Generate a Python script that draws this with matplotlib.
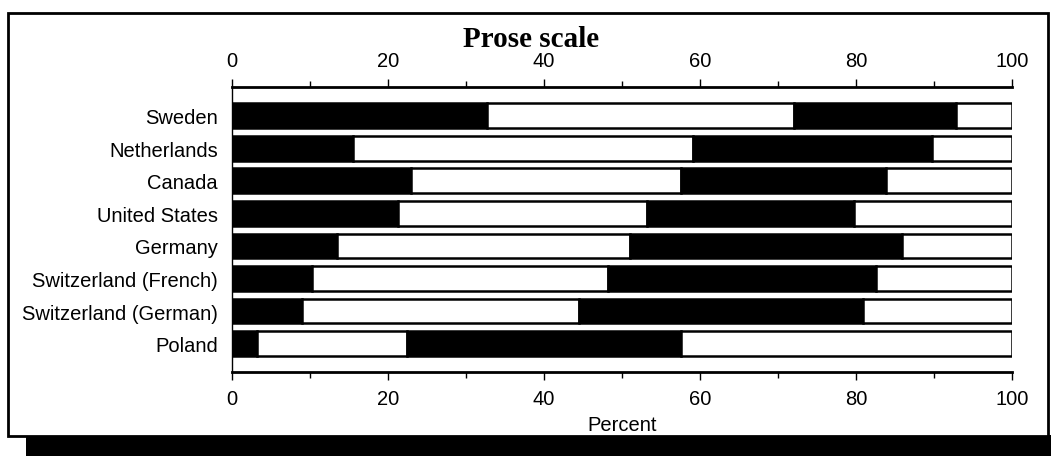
import matplotlib
matplotlib.use("Agg")
import matplotlib.pyplot as plt
from matplotlib.patches import Rectangle
from matplotlib.ticker import MultipleLocator

countries = ["Sweden", "Netherlands", "Canada", "United States", "Germany",
             "Switzerland (French)", "Switzerland (German)", "Poland"]
# cumulative boundaries between the four levels (percent)
level1 = [32.7, 15.5, 22.9, 21.3, 13.5, 10.2, 9.0, 3.2]
level2 = [72.0, 59.1, 57.5, 53.2, 51.0, 48.2, 44.5, 22.4]
level3 = [92.8, 89.8, 83.8, 79.7, 85.9, 82.6, 80.9, 57.5]
level4 = [100, 100, 100, 100, 100, 100, 100, 100]
ticks = [0, 20, 40, 60, 80, 100]

plt.rcParams['font.family'] = ['Liberation Sans', 'DejaVu Sans']

fig = plt.figure(figsize=(10.51, 4.60), dpi=100)

# outer frame with shadow
fig.patches.append(Rectangle((26/1051, 3/460), 1025/1051, 21/460, transform=fig.transFigure,
                             facecolor='black', edgecolor='none', zorder=0))
fig.patches.append(Rectangle((8/1051, 23/460), 1040/1051, 423/460, transform=fig.transFigure,
                             facecolor='white', edgecolor='black', linewidth=2, zorder=1))

ax = fig.add_axes([232/1051, 87/460, 780/1051, 285/460])
ax.set_zorder(2)
ax.patch.set_alpha(0)

y = list(range(len(countries)))
bounds = [[0]*len(countries), level1, level2, level3, level4]
colors = ['black', 'white', 'black', 'white']
for i in range(4):
    widths = [b - a for a, b in zip(bounds[i], bounds[i+1])]
    ax.barh(y, widths, left=bounds[i], height=0.76, color=colors[i],
            edgecolor='black', linewidth=1.8)

ax.set_xlim(0, 100)
ax.set_ylim(len(countries) - 0.13, -0.88)
ax.set_yticks(y)
ax.set_yticklabels(countries, fontsize=14.5)
ax.tick_params(axis='y', length=0, pad=10)
ax.set_xticks(ticks)
ax.xaxis.set_minor_locator(MultipleLocator(10))
ax.tick_params(axis='x', which='both', top=True, labeltop=True, direction='out',
               labelsize=14.5, width=1)
ax.tick_params(axis='x', which='major', length=6, pad=6)
ax.tick_params(axis='x', which='minor', length=4)
ax.spines['right'].set_visible(False)
ax.spines['top'].set_linewidth(2)
ax.spines['bottom'].set_linewidth(2)
ax.spines['left'].set_linewidth(1)
ax.set_xlabel("Percent", fontsize=14.5, labelpad=5)

fig.text(0.505, 0.915, "Prose scale", ha='center', va='center', fontsize=21,
         fontweight='bold', family='Liberation Serif')

fig.savefig("out.png", dpi=100)
